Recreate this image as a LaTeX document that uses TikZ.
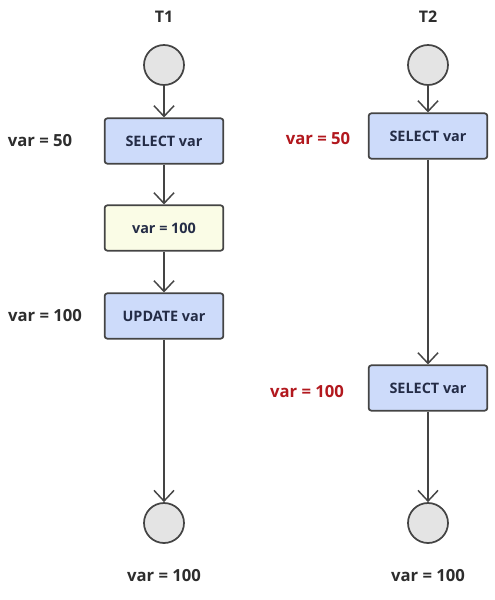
\documentclass[tikz,border=0pt]{standalone}
\usepackage{fontspec}
\setmainfont{Open Sans}
\usepackage{xcolor}
\usetikzlibrary{arrows.meta, positioning, shapes}

\definecolor{linegray}{RGB}{68,68,68}
\definecolor{circgray}{RGB}{228,228,228}
\definecolor{boxblue}{RGB}{205,219,250}
\definecolor{boxyellow}{RGB}{250,252,230}
\definecolor{textnavy}{RGB}{36,44,70}
\definecolor{textdark}{RGB}{45,45,45}
\definecolor{textred}{RGB}{178,24,30}

\begin{document}
\begin{tikzpicture}[
    x=0.75pt, y=-0.75pt,
    every node/.style={align=center},
    state/.style={circle, draw=linegray, fill=circgray, line width=1.3pt, minimum size=30pt, inner sep=0pt},
    stepbox/.style={rectangle, rounded corners=2pt, draw=linegray, fill=boxblue, line width=1.3pt,
        minimum width=89pt, minimum height=34pt, inner sep=0pt, font=\fontsize{10.8}{12}\selectfont\bfseries, text=textnavy},
    setbox/.style={stepbox, fill=boxyellow},
    head/.style={font=\fontsize{12}{14}\selectfont\bfseries, text=textdark},
    value/.style={font=\fontsize{12.5}{15}\selectfont\bfseries, text=textdark},
    redvalue/.style={value, text=textred},
    flow/.style={-{Straight Barb[length=8pt, width=15pt, line width=1.1pt]}, line width=1.1pt, draw=linegray}
]
\useasboundingbox (0,0) rectangle (495,600);

% T1
\node[head] (t1) at (164,17) {T1};
\node[state] (t1start) at (164,65) {};
\node[stepbox] (t1sel) at (164,141) {SELECT var};
\node[setbox] (t1set) at (164,228) {var = 100};
\node[stepbox] (t1upd) at (164,316) {UPDATE var};
\node[state] (t1end) at (164,523) {};

% T2
\node[head] (t2) at (428,17) {T2};
\node[state] (t2start) at (428,65) {};
\node[stepbox] (t2sel) at (428,136) {SELECT var};
\node[stepbox] (t2sel2) at (428,388) {SELECT var};
\node[state] (t2end) at (428,523) {};

% 连线
\draw[flow] (t1start) -- (t1sel);
\draw[flow] (t1sel) -- (t1set);
\draw[flow] (t1set) -- (t1upd);
\draw[flow] (t1upd) -- (t1end);
\draw[flow] (t2start) -- (t2sel);
\draw[flow] (t2sel) -- (t2sel2);
\draw[flow] (t2sel2) -- (t2end);

% 变量值
\node[value] (v1) at (40,141) {var = 50};
\node[value] (v2) at (45,316) {var = 100};
\node[value] (v3) at (164,576) {var = 100};
\node[redvalue] (r1) at (318,139) {var = 50};
\node[redvalue] (r2) at (307,392) {var = 100};
\node[value] (v4) at (428,576) {var = 100};

\end{tikzpicture}
\end{document}
